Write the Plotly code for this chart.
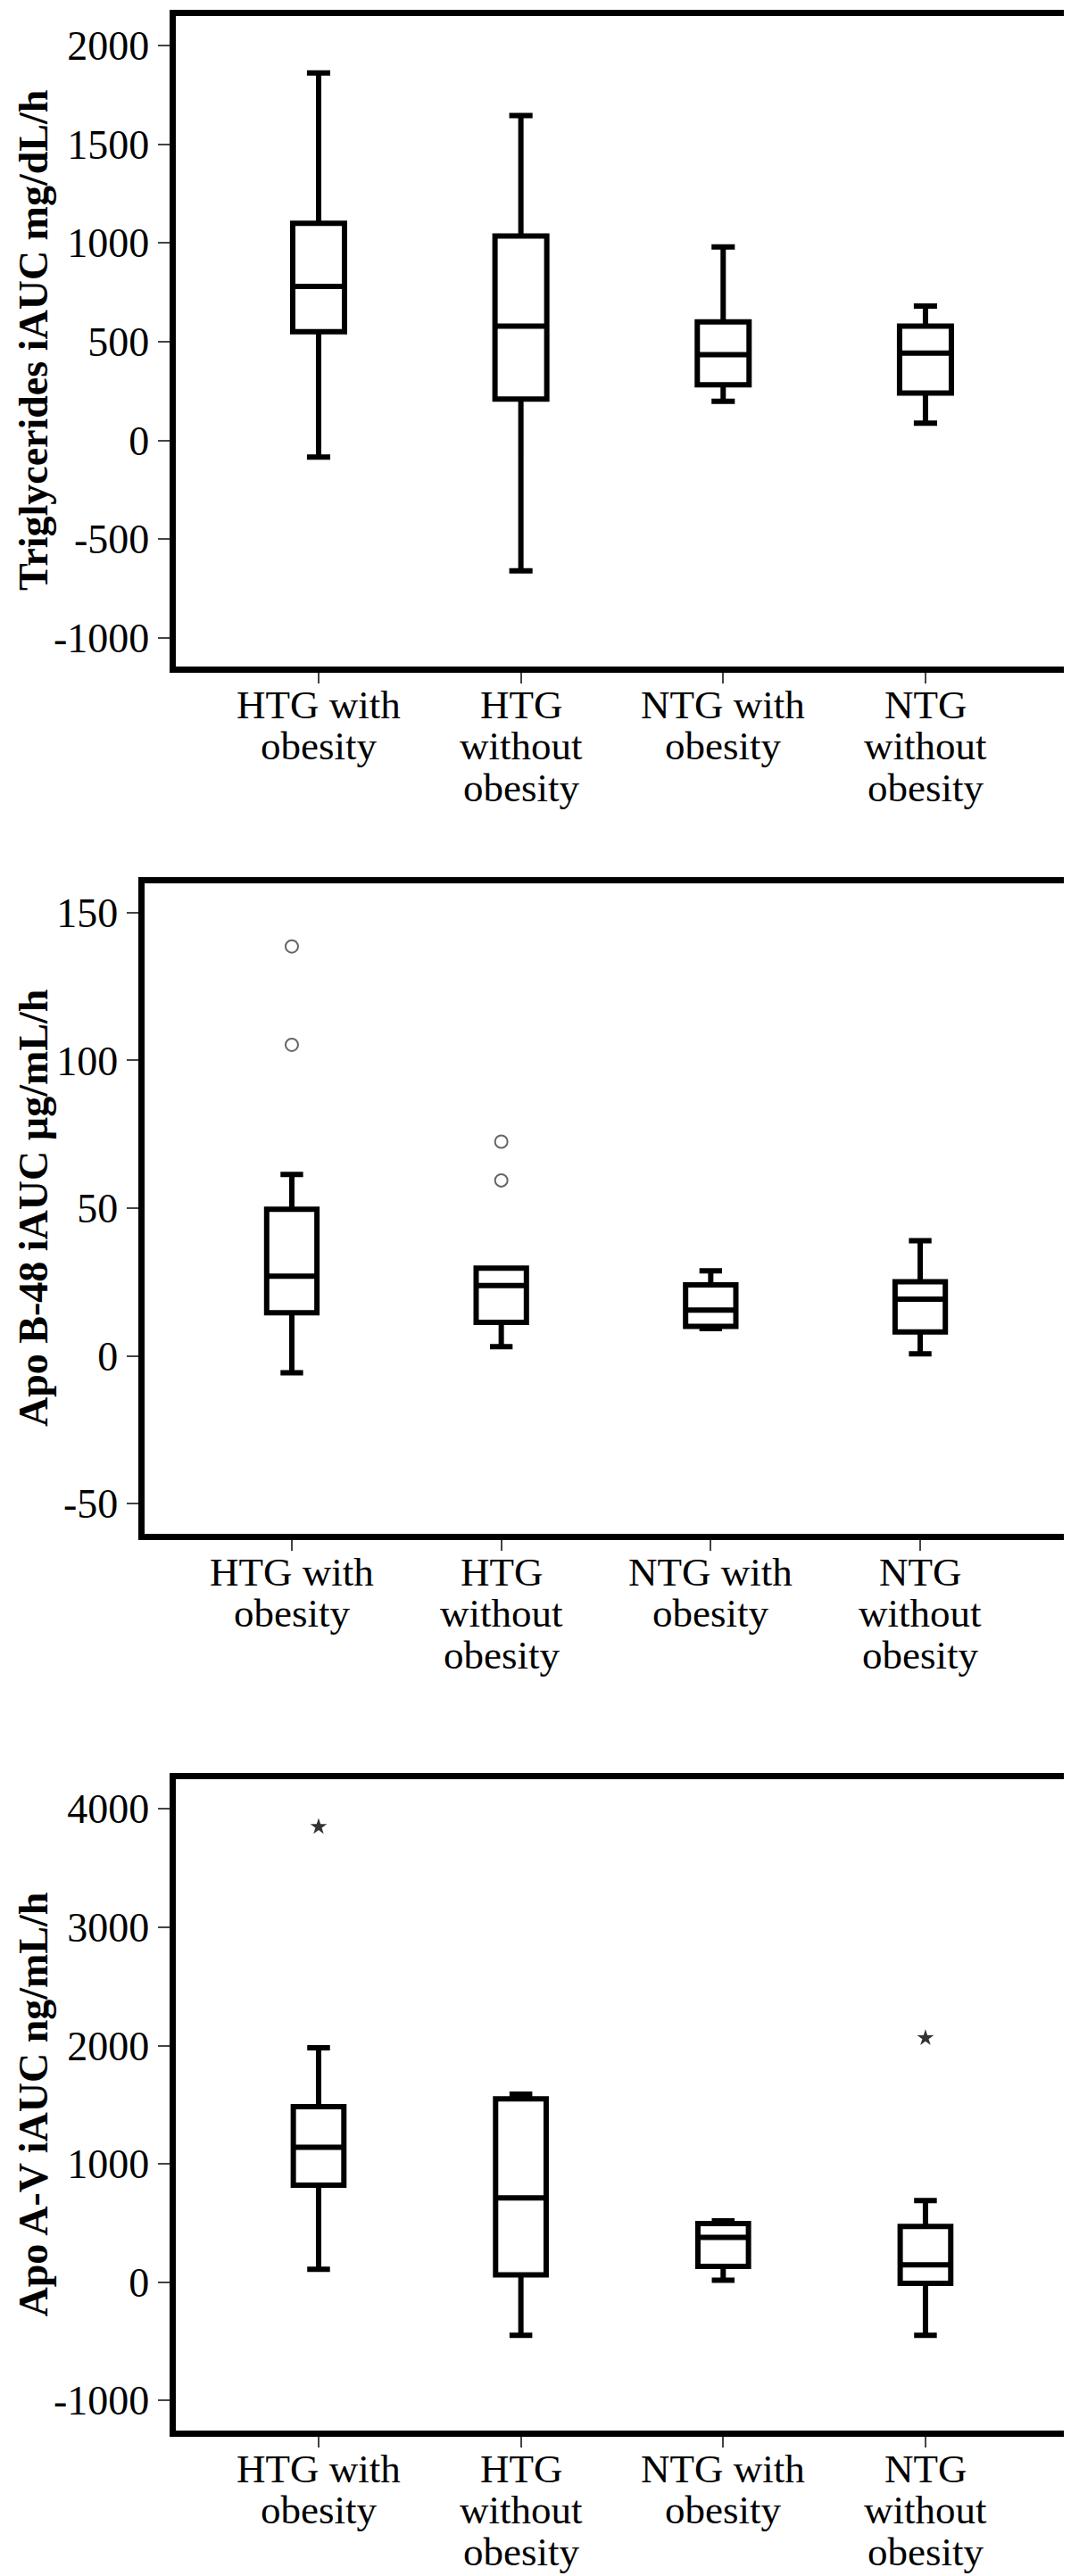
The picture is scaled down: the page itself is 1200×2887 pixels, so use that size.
import plotly.graph_objects as go

W, H = 1200, 2887

categories = ["HTG with obesity", "HTG without obesity", "NTG with obesity", "NTG without obesity"]
cat_lines = [["HTG with", "obesity"], ["HTG", "without", "obesity"],
             ["NTG with", "obesity"], ["NTG", "without", "obesity"]]

# Panel 1: Triglycerides iAUC mg/dL/h
tg_lower = [-85, -661, 198, 87]
tg_q1 = [550, 209, 281, 240]
tg_median = [780, 578, 434, 442]
tg_q3 = [1099, 1035, 600, 578]
tg_upper = [1861, 1645, 980, 680]
tg_ticks = [-1000, -500, 0, 500, 1000, 1500, 2000]

# Panel 2: Apo B-48 iAUC µg/mL/h
b48_lower = [-5.7, 3.1, 9.2, 0.7]
b48_q1 = [14.6, 11.3, 10.0, 8.1]
b48_median = [27.0, 23.8, 15.5, 19.2]
b48_q3 = [49.6, 29.7, 24.0, 25.1]
b48_upper = [61.4, 29.7, 28.8, 39.0]
b48_out_x = ["HTG with obesity", "HTG with obesity", "HTG without obesity", "HTG without obesity"]
b48_out_y = [138.6, 105.3, 72.5, 59.4]
b48_ticks = [-50, 0, 50, 100, 150]

# Panel 3: Apo A-V iAUC ng/mL/h
av_lower = [110, -448, 17, -448]
av_q1 = [820, 63, 133, -10]
av_median = [1140, 713, 379, 147]
av_q3 = [1484, 1549, 495, 472]
av_upper = [1981, 1590, 518, 690]
av_out_x = ["HTG with obesity", "NTG without obesity"]
av_out_y = [3849, 2064]
av_ticks = [-1000, 0, 1000, 2000, 3000, 4000]

FONT = "Liberation Serif"

# pixel layout of the three plot areas (inner edges): left, right, top, bottom
panels = [
    dict(px=(188.5, 1188.5), py=(9.5, 738.5), yr=(-1143, 2151), xr=(-0.708, 3.704),
         title="Triglycerides iAUC mg/dL/h", ticks=tg_ticks, bw=0.256),
    dict(px=(153.5, 1188.5), py=(981.5, 1710.5), yr=(-60.1, 160.1), xr=(-0.705, 3.705),
         title="Apo B-48 iAUC µg/mL/h", ticks=b48_ticks, bw=0.24),
    dict(px=(188.5, 1188.5), py=(1985.5, 2715.5), yr=(-1250, 4255), xr=(-0.708, 3.704),
         title="Apo A-V iAUC ng/mL/h", ticks=av_ticks, bw=0.25),
]

box_data = [
    (tg_lower, tg_q1, tg_median, tg_q3, tg_upper),
    (b48_lower, b48_q1, b48_median, b48_q3, b48_upper),
    (av_lower, av_q1, av_median, av_q3, av_upper),
]

fig = go.Figure()
annotations = []

for i, (p, bd) in enumerate(zip(panels, box_data)):
    n = "" if i == 0 else str(i + 1)
    lo, q1, med, q3, up = bd
    fig.add_trace(go.Box(
        x=categories, lowerfence=lo, q1=q1, median=med, q3=q3, upperfence=up,
        xaxis="x" + n, yaxis="y" + n,
        width=p["bw"], whiskerwidth=0.45,
        fillcolor="white", line=dict(color="black", width=6),
        boxpoints=False, showlegend=False, hoverinfo="skip",
    ))
    xd = [p["px"][0] / W, p["px"][1] / W]
    yd = [1 - p["py"][1] / H, 1 - p["py"][0] / H]
    fig.update_layout(**{
        "xaxis" + n: dict(
            domain=xd, range=list(p["xr"]), type="category",
            categoryorder="array", categoryarray=categories,
            showline=True, linewidth=7, linecolor="black", mirror=True,
            ticks="outside", ticklen=12, tickwidth=2, tickcolor="#444",
            showticklabels=False, showgrid=False, zeroline=False,
            anchor="y" + n, fixedrange=True,
        ),
        "yaxis" + n: dict(
            domain=yd, range=list(p["yr"]),
            tickvals=p["ticks"], ticktext=[str(t) for t in p["ticks"]],
            showline=True, linewidth=7, linecolor="black", mirror=True,
            ticks="outside", ticklen=13, tickwidth=2, tickcolor="#444",
            tickfont=dict(family=FONT, size=46, color="black"),
            showgrid=False, zeroline=False, anchor="x" + n, fixedrange=True,
        ),
    })
    # y-axis title
    annotations.append(dict(
        text="<b>" + p["title"] + "</b>", textangle=-90,
        xref="paper", x=29 / W, xanchor="center",
        yref=("y" + n) + " domain", y=0.5, yanchor="middle",
        showarrow=False, font=dict(family=FONT, size=46, color="black"),
    ))
    # category labels (one annotation per line for tight spacing)
    for ci, lines in enumerate(cat_lines):
        for li, line in enumerate(lines):
            annotations.append(dict(
                text=line, xref="x" + n, x=ci,
                yref=("y" + n) + " domain", y=0, yanchor="top",
                yshift=-16 - 46.5 * li, xanchor="center",
                showarrow=False, font=dict(family=FONT, size=45, color="black"),
            ))

fig.add_trace(go.Scatter(
    x=b48_out_x, y=b48_out_y, xaxis="x2", yaxis="y2", mode="markers",
    marker=dict(symbol="circle-open", size=14, color="#666", line=dict(width=2, color="#666")),
    showlegend=False, hoverinfo="skip",
))
fig.add_trace(go.Scatter(
    x=av_out_x, y=av_out_y, xaxis="x3", yaxis="y3", mode="markers",
    marker=dict(symbol="star", size=14, color="#333"),
    showlegend=False, hoverinfo="skip",
))

fig.update_layout(
    width=W, height=H, margin=dict(l=0, r=0, t=0, b=0),
    paper_bgcolor="white", plot_bgcolor="white",
    annotations=annotations, showlegend=False,
)

fig.write_html("out.html")
